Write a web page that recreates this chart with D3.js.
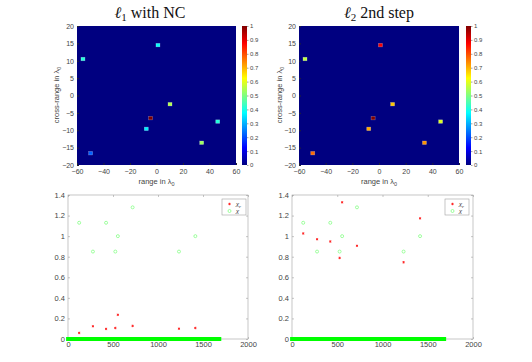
<!DOCTYPE html>
<html>
<head>
<meta charset="utf-8">
<script src="https://cdn.jsdelivr.net/npm/d3@7"></script>
<style>
  body { margin: 0; background: #fff; }
  svg { display: block; }
</style>
</head>
<body>
<div id="chart"></div>
<script>
// ---- data ----
// positions of the scatterers in the image (range, cross-range) in lambda_0
const heatX = [-55.5, 1.1, 10.2, -4.4, 46.2, -7.7, 34.1, -49.7];
const heatY = [10.5, 14.5, -2.5, -6.5, -7.5, -9.6, -13.6, -16.6];
// normalised intensities for each panel
const heatL1 = [0.41, 0.38, 0.55, 1.0, 0.41, 0.36, 0.53, 0.22];
const heatL2 = [0.56, 0.88, 0.68, 1.0, 0.59, 0.71, 0.73, 0.77];

// pixel index of the non-zero unknowns
const pixIndex = [124, 277, 423, 526, 554, 718, 1233, 1415];
const chiTrue = [1.13, 0.85, 1.13, 0.85, 1.0, 1.28, 0.85, 1.0];
const chiRecL1 = [0.059, 0.124, 0.098, 0.107, 0.235, 0.127, 0.10, 0.107];
const chiRecL2 = [1.026, 0.97, 0.948, 0.788, 1.329, 0.906, 0.746, 1.173];
const nPixels = 1681; // all other unknowns are zero

const heatXTicks = [-60, -40, -20, 0, 20, 40, 60];
const heatYTicks = [-20, -15, -10, -5, 0, 5, 10, 15, 20];
const cbarTicks = [0, 0.1, 0.2, 0.3, 0.4, 0.5, 0.6, 0.7, 0.8, 0.9, 1];
const lineXTicks = [0, 500, 1000, 1500, 2000];
const lineYTicks = [0, 0.2, 0.4, 0.6, 0.8, 1, 1.2, 1.4];

// MATLAB jet colormap
function jet(t) {
    const c = v => Math.max(0, Math.min(1, v));
    const r = c(1.5 - Math.abs(4 * t - 3));
    const g = c(1.5 - Math.abs(4 * t - 2));
    const b = c(1.5 - Math.abs(4 * t - 1));
    return d3.rgb(r * 255, g * 255, b * 255).formatHex();
}

const W = 532, H = 362;
const sans = "'Liberation Sans', Arial, sans-serif";
const serif = "'Liberation Serif', 'DejaVu Serif', serif";
const textCol = "#444";
const axisCol = "#a0a0a0";

const svg = d3.select("#chart").append("svg")
    .attr("width", W).attr("height", H)
    .style("font-family", sans);

const defs = svg.append("defs");
const grad = defs.append("linearGradient")
    .attr("id", "jetgrad").attr("x1", 0).attr("y1", 1).attr("x2", 0).attr("y2", 0);
[0, 1/8, 3/8, 5/8, 7/8, 1].forEach(t => {
    grad.append("stop").attr("offset", t).attr("stop-color", jet(t));
});

// ---- heatmap panel ----
function heatPanel(opt) {
    const x = d3.scaleLinear().domain([-60, 60]).range([opt.x0, opt.x1]);
    const y = d3.scaleLinear().domain([-20, 20]).range([165, 26]);
    const g = svg.append("g");

    g.append("rect")
        .attr("x", opt.x0).attr("y", 26)
        .attr("width", opt.x1 - opt.x0).attr("height", 139)
        .attr("fill", jet(0));

    const cw = Math.abs(x(3) - x(0)), ch = Math.abs(y(1) - y(0));
    g.selectAll(".cell")
        .data(heatX.map((d, i) => ({ x: d, y: heatY[i], v: opt.vals[i] })))
        .enter().append("rect")
        .attr("x", d => x(d.x) - cw / 2)
        .attr("y", d => y(d.y) - ch / 2)
        .attr("width", cw).attr("height", ch)
        .attr("fill", d => jet(d.v))
        .attr("stroke", "#fff").attr("stroke-opacity", 0.35).attr("stroke-width", 0.6);

    // axes
    const ax = g.append("g").attr("transform", `translate(0,165)`)
        .call(d3.axisBottom(x).tickValues(heatXTicks).tickSizeInner(-2).tickSizeOuter(0).tickPadding(4));
    const ay = g.append("g").attr("transform", `translate(${opt.x0},0)`)
        .call(d3.axisLeft(y).tickValues(heatYTicks).tickSizeInner(-2).tickSizeOuter(0).tickPadding(3));
    [ax, ay].forEach(a => {
        a.select(".domain").remove();
        a.selectAll("line").attr("stroke", "#223");
        a.selectAll("text").attr("fill", textCol).style("font-size", "7px").style("font-family", sans);
    });

    // colorbar
    const cb = d3.scaleLinear().domain([0, 1]).range([165, 26]);
    g.append("rect")
        .attr("x", opt.cb).attr("y", 26).attr("width", 5).attr("height", 139)
        .attr("fill", "url(#jetgrad)");
    const ac = g.append("g").attr("transform", `translate(${opt.cb + 5},0)`)
        .call(d3.axisRight(cb).tickValues(cbarTicks).tickFormat(d3.format("")).tickSizeInner(1.5).tickSizeOuter(0).tickPadding(1.5));
    ac.select(".domain").remove();
    ac.selectAll("line").attr("stroke", axisCol);
    ac.selectAll("text").attr("fill", textCol).style("font-size", "6px").style("font-family", sans);

    // labels
    const xl = g.append("text")
        .attr("x", (opt.x0 + opt.x1) / 2).attr("y", 184)
        .attr("text-anchor", "middle").attr("fill", textCol)
        .style("font-size", "7.5px");
    xl.append("tspan").text("range in λ");
    xl.append("tspan").attr("dy", 2).style("font-size", "5.5px").text("0");

    const yl = g.append("text")
        .attr("transform", `translate(${opt.yl},95) rotate(-90)`)
        .attr("text-anchor", "middle").attr("fill", textCol)
        .style("font-size", "7.5px");
    yl.append("tspan").text("cross-range in λ");
    yl.append("tspan").attr("dy", 2).style("font-size", "5.5px").text("0");

    // title
    const t = g.append("text")
        .attr("x", opt.tx).attr("y", 18)
        .attr("text-anchor", "middle").attr("fill", "#111")
        .style("font-family", serif).style("font-size", "16px");
    t.append("tspan").style("font-style", "italic").text("ℓ");
    t.append("tspan").attr("dy", 3).style("font-size", "11px").text(opt.sub);
    t.append("tspan").attr("dy", -3).text(opt.rest);
}

heatPanel({ x0: 77, x1: 236, cb: 242, vals: heatL1, yl: 59, tx: 150, sub: "1", rest: " with NC" });
heatPanel({ x0: 299, x1: 459, cb: 466, vals: heatL2, yl: 282, tx: 379, sub: "2", rest: " 2nd step" });

// ---- reconstruction panels ----
function linePanel(opt) {
    const x = d3.scaleLinear().domain([0, 2000]).range([opt.x0, opt.x1]);
    const y = d3.scaleLinear().domain([0, 1.4]).range([339, 195]);
    const g = svg.append("g");

    // box
    g.append("rect")
        .attr("x", opt.x0).attr("y", 195)
        .attr("width", opt.x1 - opt.x0).attr("height", 144)
        .attr("fill", "none").attr("stroke", axisCol).attr("stroke-width", 0.6);

    const ax = g.append("g").attr("transform", `translate(0,339)`)
        .call(d3.axisBottom(x).tickValues(lineXTicks).tickFormat(d3.format("d")).tickSizeInner(-2).tickSizeOuter(0).tickPadding(3));
    const ay = g.append("g").attr("transform", `translate(${opt.x0},0)`)
        .call(d3.axisLeft(y).tickValues(lineYTicks).tickFormat(d3.format("")).tickSizeInner(-2).tickSizeOuter(0).tickPadding(3));
    const axT = g.append("g").attr("transform", `translate(0,195)`)
        .call(d3.axisTop(x).tickValues(lineXTicks).tickSizeInner(-2).tickSizeOuter(0).tickFormat(""));
    const ayR = g.append("g").attr("transform", `translate(${opt.x1},0)`)
        .call(d3.axisRight(y).tickValues(lineYTicks).tickSizeInner(-2).tickSizeOuter(0).tickFormat(""));
    [ax, ay, axT, ayR].forEach(a => {
        a.select(".domain").remove();
        a.selectAll("line").attr("stroke", axisCol).attr("stroke-width", 0.6);
        a.selectAll("text").attr("fill", textCol).style("font-size", "7.5px").style("font-family", sans);
    });

    // reconstructed (red asterisks)
    const star = d3.symbol().type(d3.symbolAsterisk).size(4);
    g.selectAll(".rec")
        .data(pixIndex.map((d, i) => ({ i: d, v: opt.rec[i] })))
        .enter().append("path")
        .attr("d", star)
        .attr("transform", d => `translate(${x(d.i)},${y(d.v)})`)
        .attr("fill", "none").attr("stroke", "#f22").attr("stroke-width", 0.9);

    // zero unknowns, drawn as a continuous band of green markers
    g.append("line")
        .attr("x1", x(1) - 2).attr("x2", x(nPixels) + 2)
        .attr("y1", y(0)).attr("y2", y(0))
        .attr("stroke", "#0f0").attr("stroke-width", 4);

    // true contrast (green circles)
    g.selectAll(".true")
        .data(pixIndex.map((d, i) => ({ i: d, v: chiTrue[i] })))
        .enter().append("circle")
        .attr("cx", d => x(d.i)).attr("cy", d => y(d.v)).attr("r", 1.5)
        .attr("fill", "none").attr("stroke", "#7f7").attr("stroke-width", 0.7);

    // legend
    const lx = opt.lg;
    g.append("rect")
        .attr("x", lx).attr("y", 199).attr("width", 24).attr("height", 16)
        .attr("fill", "#fff").attr("stroke", axisCol).attr("stroke-width", 0.6);
    g.append("path").attr("d", star)
        .attr("transform", `translate(${lx + 7.5},204)`)
        .attr("fill", "none").attr("stroke", "#f22").attr("stroke-width", 0.9);
    g.append("circle").attr("cx", lx + 7.5).attr("cy", 211).attr("r", 1.5)
        .attr("fill", "none").attr("stroke", "#7f7").attr("stroke-width", 0.7);
    const t1 = g.append("text").attr("x", lx + 14).attr("y", 206)
        .attr("fill", "#222").style("font-family", serif).style("font-size", "7px").style("font-style", "italic");
    t1.append("tspan").text("χ");
    t1.append("tspan").attr("dy", 1.5).style("font-size", "5px").text("r");
    g.append("text").attr("x", lx + 14).attr("y", 213)
        .attr("fill", "#222").style("font-family", serif).style("font-size", "7px").style("font-style", "italic")
        .text("χ");
}

linePanel({ x0: 68, x1: 248, rec: chiRecL1, lg: 222 });
linePanel({ x0: 292, x1: 473, rec: chiRecL2, lg: 445 });
</script>
</body>
</html>
